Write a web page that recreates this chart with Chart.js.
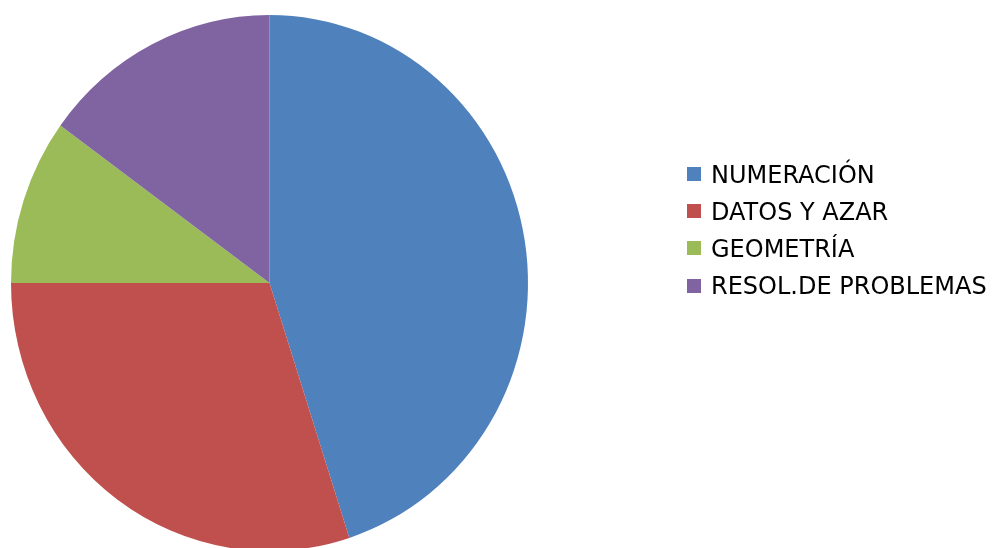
<!DOCTYPE html>
<html>
<head>
<meta charset="utf-8">
<script src="https://cdn.jsdelivr.net/npm/chart.js@4/dist/chart.umd.min.js"></script>
<style>
  html, body { margin: 0; padding: 0; background: #fff; }
  #wrap { width: 993px; height: 548px; position: relative; }
</style>
</head>
<body>
<div id="wrap"><canvas id="c" width="993" height="548"></canvas></div>
<script>
const categories = ["NUMERACIÓN", "DATOS Y AZAR", "GEOMETRÍA", "RESOL.DE PROBLEMAS"];
const values = [45, 30, 10, 15];
const colors = ["#4F81BD", "#C0504D", "#9BBB59", "#8064A2"];

const centerY = 283;
const stretchY = 268 / 258.5;

const ellipsePlugin = {
  id: 'ellipse',
  beforeDatasetsDraw(chart) {
    const ctx = chart.ctx;
    ctx.save();
    ctx.translate(0, centerY);
    ctx.scale(1, stretchY);
    ctx.translate(0, -centerY);
  },
  afterDatasetsDraw(chart) {
    chart.ctx.restore();
  }
};

const sideLegend = {
  id: 'sideLegend',
  afterDraw(chart) {
    const ctx = chart.ctx;
    ctx.save();
    ctx.font = '24px "DejaVu Sans"';
    ctx.textBaseline = 'alphabetic';
    ctx.textAlign = 'left';
    const boxX = 687, textX = 711, firstY = 174, step = 37.2, box = 14;
    categories.forEach((label, i) => {
      const cy = firstY + i * step;
      ctx.fillStyle = colors[i];
      ctx.fillRect(boxX, Math.round(cy - box / 2), box, box);
      ctx.fillStyle = '#000';
      ctx.fillText(label, textX, cy + 8.5);
    });
    ctx.restore();
  }
};

new Chart(document.getElementById('c'), {
  type: 'pie',
  data: {
    labels: categories,
    datasets: [{
      data: values,
      backgroundColor: colors,
      borderWidth: 0
    }]
  },
  options: {
    responsive: false,
    animation: false,
    layout: { padding: { left: 11, right: 465, top: 24.5, bottom: 6.5 } },
    plugins: {
      legend: { display: false },
      tooltip: { enabled: false },
      title: { display: false }
    }
  },
  plugins: [ellipsePlugin, sideLegend]
});
</script>
</body>
</html>
